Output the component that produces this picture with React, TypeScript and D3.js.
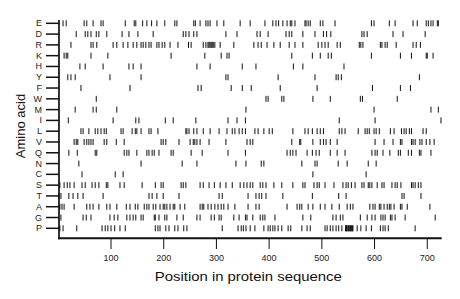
import React from 'react';
import * as d3 from 'd3';

const residues = ['E', 'D', 'R', 'K', 'H', 'Y', 'F', 'W', 'M', 'I', 'L', 'V', 'Q', 'N', 'C', 'S', 'T', 'A', 'G', 'P'];
const seqLength = 727;
const xTicks = [100, 200, 300, 400, 500, 600, 700];

const E = [9, 15, 49, 54, 66, 81, 85, 127, 144, 147, 160, 168, 177, 187, 202, 221, 225, 257, 260, 269, 280, 284, 288, 301, 314, 345, 364, 392, 407, 413, 418, 426, 434, 440, 443, 449, 468, 470, 474, 478, 497, 502, 525, 594, 599, 628, 639, 673, 681, 698, 702, 707, 711, 719, 721];
const D = [34, 51, 56, 62, 72, 77, 92, 121, 134, 151, 180, 237, 242, 248, 257, 263, 318, 339, 377, 383, 398, 432, 438, 443, 464, 487, 503, 509, 517, 576, 580, 586, 635, 654, 696];
const R = [24, 62, 66, 73, 104, 111, 123, 132, 142, 149, 157, 161, 166, 172, 176, 187, 191, 197, 202, 212, 227, 247, 252, 275, 280, 284, 286, 288, 290, 292, 294, 297, 307, 333, 371, 379, 385, 396, 409, 421, 438, 449, 464, 493, 500, 506, 512, 529, 535, 571, 574, 578, 611, 614, 620, 624, 641, 673, 679, 687];
const K = [11, 15, 18, 62, 94, 214, 278, 309, 320, 324, 443, 482, 497, 512, 518, 594, 649, 670, 698, 700, 711];
const H = [41, 51, 85, 134, 142, 157, 263, 288, 349, 375, 446, 464, 542];
const Y = [18, 24, 32, 98, 157, 318, 322, 417, 487, 527, 531, 537, 685];
const F = [43, 136, 265, 271, 328, 349, 366, 421, 491, 596, 649, 668];
const W = [72, 394, 398, 424, 428, 483, 516, 573, 577, 643];
const M = [32, 66, 72, 111, 356, 599, 707, 721];
const I = [19, 104, 147, 153, 203, 218, 261, 322, 339, 355, 533, 601, 726];
const L = [43, 47, 58, 70, 75, 81, 87, 91, 119, 123, 140, 146, 149, 157, 172, 176, 189, 242, 244, 248, 257, 263, 275, 288, 305, 320, 330, 335, 343, 349, 355, 373, 379, 390, 400, 406, 445, 468, 474, 482, 491, 497, 503, 533, 538, 544, 569, 582, 586, 590, 599, 603, 609, 630, 637, 651, 656, 660, 666, 670, 692, 698];
const V = [30, 34, 37, 49, 54, 58, 62, 66, 87, 92, 110, 125, 195, 199, 204, 229, 250, 256, 259, 263, 269, 286, 318, 358, 364, 369, 443, 458, 460, 483, 497, 503, 508, 516, 529, 601, 618, 635, 649, 652, 670, 673, 677, 686, 690, 698, 705, 713];
const Q = [20, 36, 70, 73, 125, 130, 134, 149, 168, 172, 178, 182, 191, 214, 218, 252, 273, 322, 355, 434, 440, 445, 451, 472, 482, 489, 495, 516, 529, 544, 595, 601, 605, 616, 629, 645, 649, 664, 670, 685, 688, 707];
const N = [39, 157, 235, 263, 337, 356, 385, 390, 462, 487, 491, 531, 548, 588, 603];
const C = [45, 108, 123, 483, 584];
const S = [3, 11, 17, 22, 30, 45, 51, 64, 70, 77, 91, 94, 117, 125, 159, 184, 195, 199, 233, 237, 242, 269, 275, 286, 296, 307, 318, 330, 345, 352, 358, 364, 369, 383, 388, 394, 409, 424, 445, 464, 468, 485, 491, 495, 506, 523, 540, 546, 550, 556, 563, 576, 580, 588, 591, 595, 605, 614, 618, 633, 639, 643, 650, 670, 673, 677, 683, 688];
const T = [1, 5, 20, 28, 37, 47, 85, 172, 178, 187, 199, 229, 305, 311, 360, 375, 381, 386, 394, 426, 482, 532, 546, 652, 656, 688];
const A = [3, 7, 11, 30, 54, 60, 66, 77, 92, 98, 111, 129, 136, 146, 151, 163, 168, 172, 180, 185, 193, 199, 202, 206, 212, 218, 221, 231, 240, 269, 273, 276, 284, 290, 297, 303, 309, 314, 322, 335, 360, 375, 381, 434, 453, 458, 462, 474, 483, 497, 506, 519, 533, 548, 554, 559, 591, 597, 601, 609, 612, 618, 624, 628, 631, 637, 649, 652, 662, 705];
const G = [5, 47, 53, 62, 98, 106, 113, 130, 136, 142, 147, 157, 161, 182, 184, 191, 202, 206, 225, 237, 263, 269, 290, 296, 305, 309, 333, 343, 355, 358, 369, 383, 388, 392, 411, 464, 479, 521, 527, 535, 540, 573, 586, 595, 601, 612, 616, 620, 630, 633, 639, 658, 715];
const P = [3, 9, 35, 83, 89, 94, 100, 107, 117, 127, 184, 189, 193, 204, 210, 221, 227, 238, 244, 311, 341, 347, 351, 356, 364, 373, 390, 398, 402, 407, 411, 417, 424, 436, 441, 462, 472, 478, 506, 510, 516, 521, 527, 532, 538, 545, 546, 547, 548, 550, 551, 552, 554, 555, 556, 558, 559, 567, 574, 584, 594, 611, 616, 620, 626, 677];

const positionsByResidue: Record<string, number[]> = { E, D, R, K, H, Y, F, W, M, I, L, V, Q, N, C, S, T, A, G, P };

const FONT = '"Liberation Sans", Arial, Helvetica, sans-serif';

export default function App() {
  const width = 460;
  const height = 299;
  const x = d3.scaleLinear().domain([0, seqLength]).range([58.3, 441.5]);
  const y = d3.scalePoint<string>().domain(residues).range([23.3, 228.3]);
  const axisLeftX = 59;
  const axisBottomY = 238.3;

  return (
    <svg width={width} height={height} style={{ position: 'absolute', left: 0, top: 0, background: '#fff' }}>
      <rect x={0} y={0} width={width} height={height} fill="#fff" />
      {residues.map((r) => (
        <g key={r}>
          {positionsByResidue[r].map((p, i) => (
            <rect key={i} x={x(p) - 0.5} y={(y(r) as number) - 3} width={1} height={6} fill="#111" />
          ))}
          <line x1={46} x2={axisLeftX} y1={y(r)} y2={y(r)} stroke="#111" strokeWidth={1.5} />
          <text x={42} y={y(r)} textAnchor="end" dominantBaseline="central" fontSize={9} fontFamily={FONT} fill="#222">{r}</text>
        </g>
      ))}
      <line x1={axisLeftX} x2={axisLeftX} y1={20} y2={axisBottomY + 1} stroke="#111" strokeWidth={1.7} />
      <line x1={58} x2={441.7} y1={axisBottomY} y2={axisBottomY} stroke="#111" strokeWidth={2} />
      {xTicks.map((t) => (
        <g key={t}>
          <line x1={x(t)} x2={x(t)} y1={axisBottomY} y2={249} stroke="#111" strokeWidth={1} />
          <text x={x(t)} y={261} textAnchor="middle" fontSize={9} fontFamily={FONT} fill="#222">{t}</text>
        </g>
      ))}
      <text x={248.3} y={281} textAnchor="middle" fontSize={13} fontFamily={FONT} fill="#111" textLength={187} lengthAdjust="spacingAndGlyphs">Position in protein sequence</text>
      <text transform="translate(20,126) rotate(-90)" textAnchor="middle" dominantBaseline="central" fontSize={13} fontFamily={FONT} fill="#111">Amino acid</text>
    </svg>
  );
}
